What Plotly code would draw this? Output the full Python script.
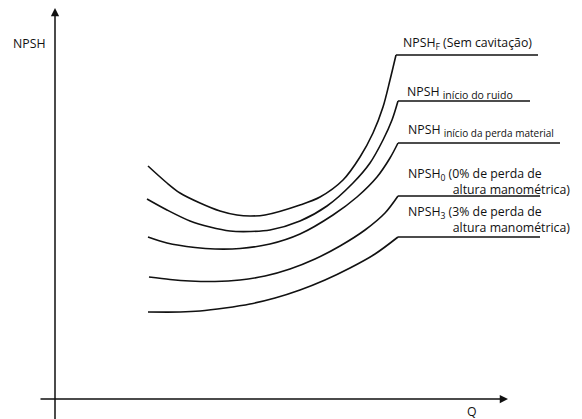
import plotly.graph_objects as go

# ---- data (Q, NPSH in arbitrary units) ----
curve_names = ["NPSH_F", "NPSH_ruido", "NPSH_perda", "NPSH_0", "NPSH_3"]

q_F = [9.3, 11.2, 12.5, 14.5, 16.5, 18.2, 19.5, 21.0, 24.5, 26.5, 28.8, 30.5, 31.8, 32.8, 33.5, 34.1]
npsh_F = [23.3, 21.6, 20.6, 19.6, 18.8, 18.4, 18.3, 18.4, 19.4, 20.2, 21.9, 24.2, 26.6, 29.2, 31.9, 34.4]
flat_F = [34.1, 48.3]
flat_F_val = 34.4

q_R = [9.2, 11.2, 13.5, 15.5, 17.5, 19.5, 21.5, 24.5, 27.2, 29.8, 31.5, 32.8, 33.7, 34.3]
npsh_R = [20.0, 18.9, 17.8, 17.2, 16.8, 16.75, 16.9, 17.8, 19.3, 21.6, 23.6, 25.9, 27.9, 29.8]
flat_R = [34.3, 47.5]
flat_R_val = 29.8

q_M = [9.3, 11.2, 14.0, 16.0, 18.5, 21.5, 24.5, 27.8, 30.2, 32.2, 33.5, 34.3]
npsh_M = [16.2, 15.6, 15.15, 15.0, 15.05, 15.5, 16.5, 18.4, 20.2, 22.2, 24.1, 25.6]
flat_M = [34.3, 50.5]
flat_M_val = 25.6

q_0 = [9.4, 11.5, 13.5, 16.0, 18.5, 21.0, 23.5, 26.0, 28.5, 31.0, 33.0, 34.3]
npsh_0 = [12.2, 11.95, 11.8, 11.75, 11.9, 12.3, 13.0, 14.0, 15.3, 16.9, 18.6, 20.3]
flat_0 = [34.3, 48.5]
flat_0_val = 20.3

q_3 = [9.3, 12.5, 14.5, 17.0, 19.5, 22.0, 24.5, 27.0, 29.5, 32.0, 34.3]
npsh_3 = [8.7, 8.7, 8.8, 9.1, 9.5, 10.1, 10.9, 11.9, 13.1, 14.5, 16.2]
flat_3 = [34.3, 48.5]
flat_3_val = 16.2

INDENT = "&nbsp;" * 14
labels = [
    "NPSH<sub>F</sub> (Sem cavitação)",
    "NPSH <sub><span style='font-size:10.5px'>início do ruido</span></sub>",
    "NPSH <sub><span style='font-size:10px'>início da perda material</span></sub>",
    "NPSH<sub>0</sub> (0% de perda de<br>" + INDENT + "altura manométrica)",
    "NPSH<sub>3</sub> (3% de perda de<br>" + INDENT + "altura manométrica)",
]
y_title = "NPSH"
x_title = "Q"

COL = "#111111"
FONT = "Open Sans"
FS = 12.3

fig = go.Figure()

curves = [
    (q_F, npsh_F, flat_F, flat_F_val),
    (q_R, npsh_R, flat_R, flat_R_val),
    (q_M, npsh_M, flat_M, flat_M_val),
    (q_0, npsh_0, flat_0, flat_0_val),
    (q_3, npsh_3, flat_3, flat_3_val),
]
for name, (qx, ny, fx, fv) in zip(curve_names, curves):
    fig.add_trace(go.Scatter(x=qx, y=ny, mode="lines", name=name,
                             line=dict(color=COL, width=1.6, shape="spline", smoothing=0.9),
                             showlegend=False, hoverinfo="skip"))
    fig.add_trace(go.Scatter(x=fx, y=[fv, fv], mode="lines", name=name + "_h",
                             line=dict(color=COL, width=1.4),
                             showlegend=False, hoverinfo="skip"))

# axes with arrows
fig.add_annotation(x=45.3, y=0, ax=-1.6, ay=0, xref="x", yref="y", axref="x", ayref="y",
                   showarrow=True, arrowhead=2, arrowsize=1.1, arrowwidth=1.5, arrowcolor=COL, text="")
fig.add_annotation(x=0, y=39.1, ax=0, ay=-2.5, xref="x", yref="y", axref="x", ayref="y",
                   showarrow=True, arrowhead=2, arrowsize=1.1, arrowwidth=1.5, arrowcolor=COL, text="")

# labels
lab_pos = [(34.7, 35.6), (35.1, 30.7), (35.2, 26.9), (35.2, 21.75), (35.2, 17.95)]
for t, (lx, ly) in zip(labels, lab_pos):
    fig.add_annotation(x=lx, y=ly, text=t, showarrow=False, xanchor="left", yanchor="middle",
                       align="left", borderpad=0, font=dict(family=FONT, size=FS, color=COL))

fig.add_annotation(x=-2.6, y=35.6, text=y_title, showarrow=False, xanchor="center", yanchor="middle",
                   font=dict(family=FONT, size=FS, color=COL))
fig.add_annotation(x=41.7, y=-1.2, text=x_title, showarrow=False, xanchor="center", yanchor="middle",
                   font=dict(family=FONT, size=FS, color=COL))

fig.update_layout(
    width=582, height=419,
    margin=dict(l=0, r=0, t=0, b=0),
    paper_bgcolor="white", plot_bgcolor="white",
    xaxis=dict(range=[-5.5, 52.7], visible=False, fixedrange=True),
    yaxis=dict(range=[-2.0, 39.9], visible=False, fixedrange=True),
)

fig.write_html("out.html", config={"displayModeBar": False},
               post_script="document.body.style.margin='0';document.body.style.overflow='hidden';")
